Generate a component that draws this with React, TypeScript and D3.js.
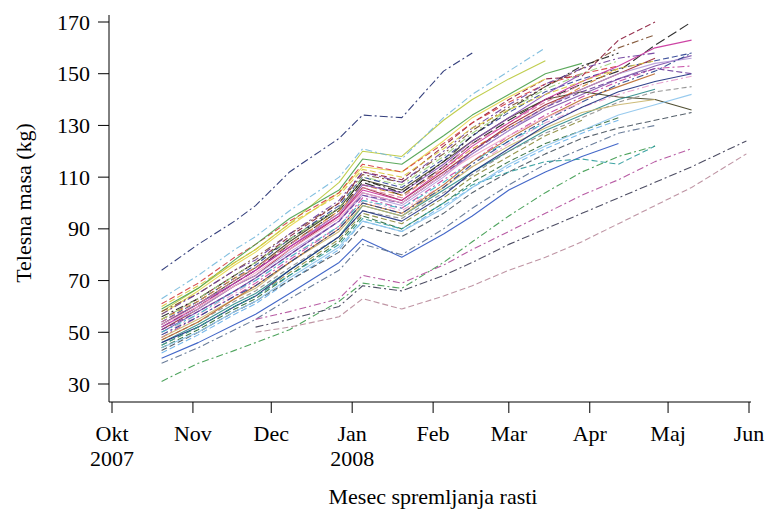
import React from "react";
import * as d3 from "d3";

// Measurement dates (approximate weighing days)
const DATES = [
  "2007-10-20", "2007-11-03", "2007-11-17", "2007-11-25", "2007-12-08", "2007-12-27",
  "2008-01-05", "2008-01-20", "2008-02-05", "2008-02-16", "2008-03-01", "2008-03-15",
  "2008-03-29", "2008-04-12", "2008-04-26", "2008-05-10", "2008-05-31",
];

const MONTH_LABELS = ["Okt", "Nov", "Dec", "Jan", "Feb", "Mar", "Apr", "Maj", "Jun"];
const YEAR_LABELS: Record<number, string> = { 0: "2007", 3: "2008" };
const Y_TICKS = [30, 50, 70, 90, 110, 130, 150, 170];

type V = number | null;
const _ = null;

// Body mass (kg) of each animal at the dates above
const S01: V[] = [74, 84, 93, 99, 112, 125, 134, 133, 151, 158];
const S02: V[] = [58, 67, 77, 82, 92, 108, 120, 118, 132, 140, 148, 155];
const S03: V[] = [63, 72, 82, 87, 97, 110, 121, 117, 133, 142, 151, 160];
const S04: V[] = [55, 63, 72, 77, 87, 100, 112, 109, 122, 131, 140, 148, 149, 163, 170];
const S05: V[] = [52, 60, 69, 74, 84, 97, 108, 103, 114, 123, 132, 140, 146, 151, 161, 170];
const S06: V[] = [50, 58, 66, 71, 80, 93, 104, 100, 111, 119, 128, 136, 142, 148, 153, 157];
const S07: V[] = [54, 62, 71, 76, 86, 99, 110, 106, 117, 126, 135, 143, 148, 152, 155, 158];
const S08: V[] = [53, 61, 70, 75, 85, 98, 109, 105, 116, 124, 133, 140, 143, 141, 140, 136];
const S09: V[] = [48, 56, 64, 69, 78, 91, 102, 98, 109, 116, 126, 134, 141, 147, 152, 153];
const S10: V[] = [46, 53, 61, 65, 74, 87, 99, 95, 105, 112, 120, 128, 134, 140, 144];
const S11: V[] = [55, 62, 71, 75, 84, 97, 107, 103, 113, 121, 129, 137, 145, 152];
const S12: V[] = [51, 59, 68, 72, 82, 95, 106, 101, 112, 120, 130, 138, 144, 150, 156];
const S13: V[] = [47, 54, 62, 66, 75, 87, 97, 94, 104, 111, 120, 127, 133, 139, 143, 145];
const S14: V[] = [49, 57, 65, 70, 79, 91, 101, 97, 107, 114, 123, 131, 137, 142, 146, 149];
const S15: V[] = [40, 46, 53, 57, 65, 77, 86, 79, 88, 95, 105, 112, 118, 123];
const S16: V[] = [31, 38, 43, 46, 51, 62, 69, 67, 77, 85, 95, 104, 112, 118, 122];
const S17: V[] = [57, 66, 76, 81, 91, 104, 114, 112, 124, 133, 141, 148];
const S18: V[] = [45, 52, 60, 64, 73, 86, 96, 92, 102, 110, 118, 126, 132];
const S19: V[] = [52, 59, 68, 72, 81, 93, 103, 99, 110, 119, 128, 137, 144, 150, 154, 156];
const S20: V[] = [44, 51, 59, 63, 72, 85, 95, 90, 100, 108, 116, 123, 128, 133];
const S21: V[] = [58, 65, 74, 79, 88, 100, 111, 108, 119, 128, 137, 145, 152, 160, 165];
const S22: V[] = [42, 49, 57, 61, 70, 82, 93, 89, 99, 106, 114, 121, 127, 132];
const S23: V[] = [53, 61, 69, 74, 83, 96, 107, 104, 115, 124, 133, 142, 150];
const S24: V[] = [61, 69, 79, 84, 93, 104, 115, 112, 123, 131, 139, 146, 150, 153];
const S25: V[] = [50, 57, 66, 70, 79, 91, 101, 98, 108, 116, 124, 131];
const S26: V[] = [56, 63, 72, 77, 86, 98, 109, 104, 116, 126, 136, 145, 153, 158];
const S27: V[] = [48, 55, 63, 67, 77, 89, 99, 95, 106, 114, 122, 129, 135, 138, 140];
const S28: V[] = [46, 52, 60, 64, 74, 87, 97, 93, 103, 112, 121, 130, 137, 143, 147, 150];
const S29: V[] = [54, 61, 70, 75, 84, 96, 106, 102, 114, 123, 131, 139, 146];
const S30: V[] = [38, 44, 51, 55, 63, 74, 84, 80, 90, 98, 107, 115, 121, 127, 130];
const S31: V[] = [59, 67, 78, 84, 94, 105, 117, 115, 126, 134, 142, 150, 154];
const S32: V[] = [51, 58, 66, 71, 80, 93, 103, 100, 111, 120, 129, 137, 143, 148, 152, 150];
const S33: V[] = [47, 54, 63, 68, 77, 90, 100, 96, 107, 116, 125, 133, 140, 145, 150];
const S34: V[] = [43, 50, 58, 62, 70, 81, 91, 87, 96, 104, 112, 119, 125, 129, 132, 135];
const S35: V[] = [55, 63, 72, 77, 86, 98, 110, 107, 118, 127, 136, 144, 150, 155];
const S36: V[] = [52, 60, 69, 74, 83, 95, 105, 101, 113, 122, 131, 140, 147, 153, 160, 163];
const S37: V[] = [45, 52, 60, 64, 72, 84, 94, 90, 100, 107, 112, 116, 117, 115, 122];
const S38: V[] = [57, 65, 74, 78, 88, 101, 112, 108, 120, 129, 138, 146, 152, 156, 158];
const S39: V[] = [49, 56, 64, 68, 77, 90, 100, 96, 106, 115, 124, 132, 139, 146, 151, 158];
const S40: V[] = [53, 60, 68, 73, 82, 94, 104, 100, 111, 118, 126, 133, 139];
const S41: V[] = [60, 68, 77, 82, 92, 103, 113, 110, 121, 129, 136, 142, 147, 152, 155];
const S42: V[] = [44, 50, 58, 62, 71, 83, 93, 89, 98, 106, 115, 122, 128, 134, 138, 142];
// later cohort (first weighed end of November)
const L01: V[] = [_, _, _, 52, 55, 60, 68, 66, 72, 77, 84, 90, 96, 102, 108, 114, 124];
const L02: V[] = [_, _, _, 50, 52, 56, 63, 59, 64, 68, 74, 79, 85, 92, 99, 106, 119];
const L03: V[] = [_, _, _, 55, 58, 63, 72, 69, 76, 82, 89, 96, 103, 109, 116, 121];

const SERIES: V[][] = [
  S01, S02, S03, S04, S05, S06, S07, S08, S09, S10, S11, S12, S13, S14, S15, S16, S17, S18, S19, S20, S21,
  S22, S23, S24, S25, S26, S27, S28, S29, S30, S31, S32, S33, S34, S35, S36, S37, S38, S39, S40, S41, S42,
  L01, L02, L03,
];

const COLORS = [
  "#1e2a6e", "#b9c83a", "#74b8dc", "#8c1c3c", "#1a1a1a", "#7d52a8", "#2b3f91", "#3e3c1c", "#c23d9e", "#2a8a8a",
  "#d68a2c", "#9b2335", "#8a8a8a", "#e69acb", "#2f56c2", "#3c9a4c", "#e6d64a", "#8a8a3a", "#b49ad8", "#2f6b3a",
  "#7a4a2a", "#68b0e8", "#8b4fb8", "#d33b3b", "#3ab8c8", "#202020", "#c8b46a", "#1c2f80", "#d77a9a", "#5a6f8f",
  "#4aa04a", "#6a3c9c", "#b8682a", "#44505c", "#9ad27a", "#c8309a", "#2a9a9a", "#6c3a9a", "#27408b", "#f0a8c8",
  "#d8c83a", "#8cc4ec", "#3a3a52", "#b88a9a", "#b04a9a",
];
const DASHES = [
  "8,3,2,3", "", "7,3,2,3", "6,3", "10,4", "", "6,3", "", "7,3,2,3", "",
  "6,3", "", "5,3", "7,3,2,3", "", "7,3,2,3", "", "6,3", "", "6,3",
  "7,3,2,3", "6,3", "", "6,3", "7,3,2,3", "8,3,2,3", "", "", "6,3", "7,3,2,3",
  "", "6,3", "", "6,3", "7,3,2,3", "", "6,3", "7,3,2,3", "7,3,2,3", "",
  "6,3", "", "8,3,2,3", "6,3", "7,3,2,3",
];

const W = 767;
const H = 512;
const FONT = "'Liberation Serif', 'Times New Roman', serif";

export default function App() {
  const parse = d3.timeParse("%Y-%m-%d");
  const dates = DATES.map((d) => parse(d) as Date);
  const x = d3.scaleTime().domain([new Date(2007, 9, 1), new Date(2008, 5, 1)]).range([112, 749]);
  const y = d3.scaleLinear().domain([30, 170]).range([384, 22]);
  const months = d3.timeMonth.range(new Date(2007, 9, 1), new Date(2008, 5, 2));

  const line = d3
    .line<V>()
    .defined((d) => d != null)
    .x((_d, i) => x(dates[i]))
    .y((d) => y(d as number));

  const axisX0 = 109;
  const axisY0 = 402;

  return (
    <svg width={W} height={H} style={{ position: "absolute", left: 0, top: 0, background: "#fff" }}>
      <rect width={W} height={H} fill="#fff" />
      <g fill="none" strokeWidth={1.1} strokeLinejoin="round">
        {SERIES.map((s, i) => (
          <path
            key={i}
            d={line(s) || ""}
            stroke={COLORS[i % COLORS.length]}
            strokeDasharray={DASHES[i % DASHES.length] || undefined}
            strokeOpacity={0.9}
          />
        ))}
      </g>
      {/* Y axis */}
      <g stroke="#000" strokeWidth={1}>
        <line x1={axisX0} x2={axisX0} y1={15} y2={axisY0} />
        {Y_TICKS.map((t) => (
          <line key={t} x1={98} x2={axisX0} y1={y(t)} y2={y(t)} />
        ))}
      </g>
      <g fontFamily={FONT} fontSize={22} fill="#000" textAnchor="end">
        {Y_TICKS.map((t) => (
          <text key={t} x={90} y={y(t) + 7.5}>
            {t}
          </text>
        ))}
      </g>
      {/* X axis */}
      <g stroke="#000" strokeWidth={1}>
        <line x1={axisX0} x2={751} y1={axisY0} y2={axisY0} />
        {months.map((m, i) => (
          <line key={i} x1={x(m)} x2={x(m)} y1={axisY0} y2={axisY0 + 11} />
        ))}
      </g>
      <g fontFamily={FONT} fontSize={22} fill="#000" textAnchor="middle">
        {months.map((m, i) => (
          <text key={i} x={x(m)} y={441}>
            {MONTH_LABELS[i]}
          </text>
        ))}
        {months.map((m, i) =>
          YEAR_LABELS[i] ? (
            <text key={"y" + i} x={x(m)} y={466}>
              {YEAR_LABELS[i]}
            </text>
          ) : null
        )}
        <text x={433} y={504}>Mesec spremljanja rasti</text>
        <text transform="translate(31,203) rotate(-90)">Telesna masa (kg)</text>
      </g>
    </svg>
  );
}
